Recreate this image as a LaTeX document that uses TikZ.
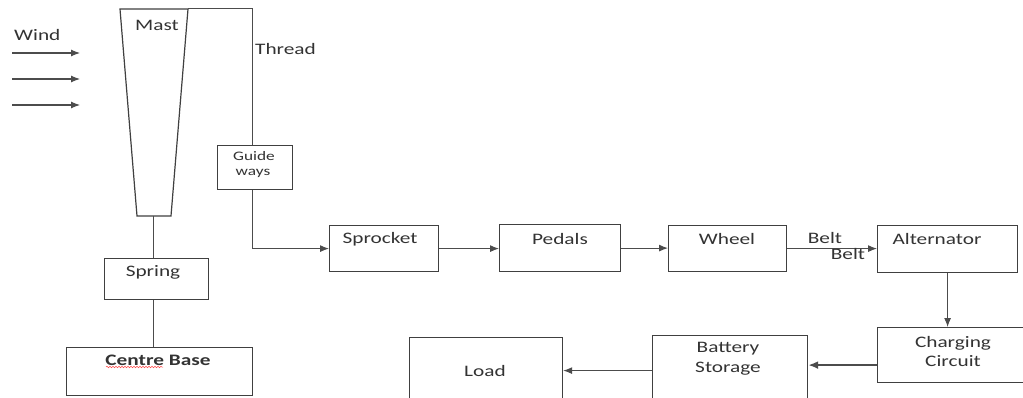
\documentclass[tikz,border=0pt]{standalone}
\usepackage{fontspec}
\setmainfont{Carlito}[FakeStretch=1.33]
\usetikzlibrary{arrows.meta,decorations.pathmorphing}
\begin{document}
\begin{tikzpicture}[x=1pt,y=-1pt,
  box/.style={draw=black!75,line width=1.2pt,inner sep=0pt,anchor=north west},
  lbl/.style={font=\fontsize{16}{18}\selectfont,text=black!80,inner sep=0pt},
  slbl/.style={font=\fontsize{13}{15}\selectfont,text=black!80,inner sep=0pt},
  conn/.style={draw=black!70,line width=1pt},
  arr/.style={conn,-{Latex[length=9pt,width=7pt]}}]
\useasboundingbox[fill=white] (0,0) rectangle (1023,398);
% boxes
\node[box,minimum width=109pt,minimum height=46pt] (spr) at (329,225) {};
\node[box,minimum width=121pt,minimum height=47pt] (ped) at (499,224) {};
\node[box,minimum width=118pt,minimum height=46pt] (whl) at (668,225) {};
\node[box,minimum width=140pt,minimum height=47pt] (alt) at (877,225) {};
\node[box,minimum width=150pt,minimum height=55pt] (chg) at (877,327) {};
\node[box,minimum width=155pt,minimum height=70pt] (bat) at (652,335) {};
\node[box,minimum width=153pt,minimum height=70pt] (load) at (409,337) {};
\node[box,minimum width=104pt,minimum height=41pt] (spring) at (104,258) {};
\node[box,minimum width=186pt,minimum height=48pt] (base) at (66,347) {};
\node[box,minimum width=75pt,minimum height=44pt] (guide) at (217,145) {};
% mast
\coordinate (mtl) at (120,9);
\coordinate (mtr) at (188,9);
\coordinate (mbr) at (171,216);
\coordinate (mbl) at (137,216);
\draw[draw=black!75,line width=1.2pt] (mtl) -- (mtr) -- (mbr) -- (mbl) -- cycle;
\coordinate (mb) at (153,216);
\draw[conn] (mb) -- (mb |- spring.north);
\draw[conn] (mb |- spring.south) -- (mb |- base.north);
% thread
\coordinate (thr) at (252,9);
\draw[conn] (mtr) -- (thr) -- (thr |- guide.north);
\draw[arr] (thr |- guide.south) -- (thr |- spr.west) -- (spr.west);
% chain
\draw[arr] (spr.east) -- (spr.east -| ped.west);
\draw[arr] (ped.east) -- (ped.east -| whl.west);
\draw[arr] (whl.east) -- (whl.east -| alt.west);
\draw[arr] (alt.south) -- (alt.south |- chg.north);
\draw[conn,line width=2pt,-{Latex[length=10pt,width=8pt]}] ([yshift=-10pt]chg.west) -- ([yshift=-10pt]chg.west -| bat.east);
\draw[arr] (bat.west) -- (bat.west -| load.east);
% wind
\foreach \i/\y in {1/53,2/79,3/105}{
  \coordinate (ws\i) at (12,\y);
  \coordinate (we\i) at (80,\y);
  \draw[conn,line width=1.1pt,-{Latex[length=9pt,width=7pt]}] (ws\i) -- (we\i);
}
% labels
\node[lbl,anchor=west] (twind) at (14,35) {Wind};
\node[lbl] (tmast) at (157,25) {Mast};
\node[lbl,anchor=west] (tthread) at (255,49) {Thread};
\node[slbl] (tguide) at (254,156) {Guide};
\node[slbl] (tways) at (253,173) {ways};
\node[lbl] (tspring) at (153,272) {Spring};
\node[lbl,font=\fontsize{16}{18}\selectfont\bfseries] (tbase) at (158,360) {Centre Base};
\draw[red!70,line width=0.5pt,decorate,decoration={snake,amplitude=0.8pt,segment length=3pt}] (106,367) -- (163,367);
\node[lbl] (tspr) at (380,239) {Sprocket};
\node[lbl] (tped) at (560,239) {Pedals};
\node[lbl] (twhl) at (727,239) {Wheel};
\node[lbl] (talt) at (937,239) {Alternator};
\node[lbl] (tbelt1) at (825,238) {Belt};
\node[lbl] (tbelt2) at (848,254) {Belt};
\node[lbl] (tchg) at (953,343) {Charging};
\node[lbl] (tcir) at (953,361) {Circuit};
\node[lbl] (tbat) at (728,349) {Battery};
\node[lbl] (tsto) at (728,369) {Storage};
\node[lbl] (tload) at (485,371) {Load};
\end{tikzpicture}
\end{document}
